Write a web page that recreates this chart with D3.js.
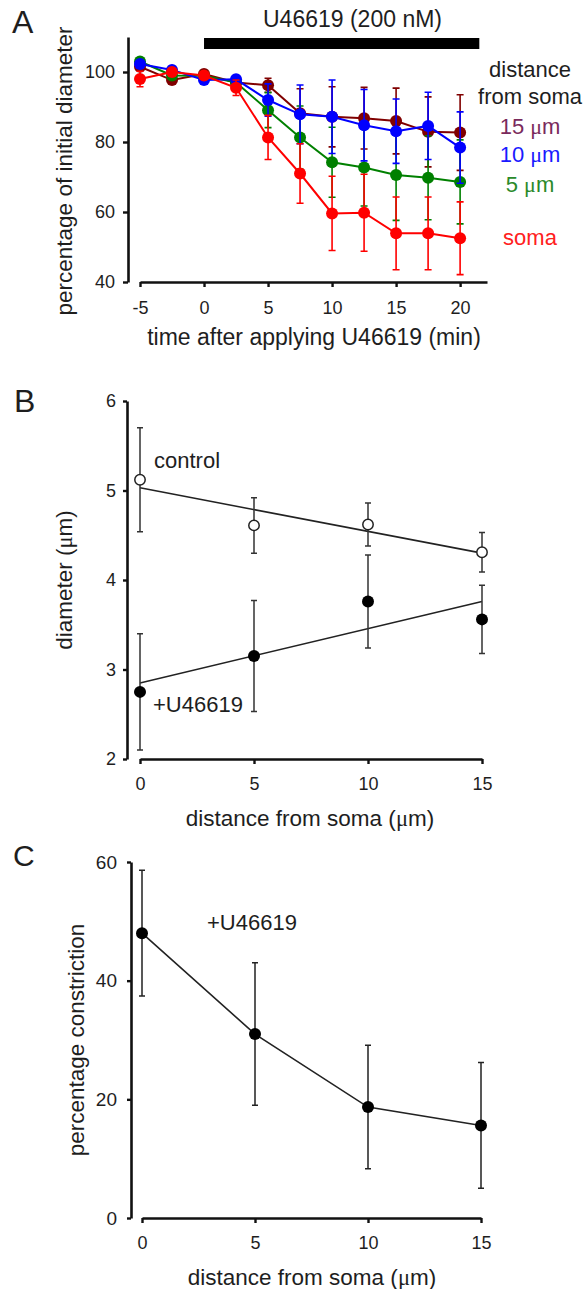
<!DOCTYPE html>
<html>
<head>
<meta charset="utf-8">
<script src="https://cdn.jsdelivr.net/npm/d3@7"></script>
<style>
  body { margin: 0; background: #fff; }
  text { font-family: "Liberation Sans", Arial, sans-serif; fill: #1e1e1e; }
</style>
</head>
<body>
<div id="figura"></div>
<script>
// panel A data (percentage of initial diameter)
const timeMin = [-5, -2.5, 0, 2.5, 5, 7.5, 10, 12.5, 15, 17.5, 20];
const soma    = [98, 100, 99, 95.5, 81.3, 71, 59.6, 59.8, 53.9, 53.9, 52.5];
const somaErr = [2.2, 1, 1, 2.2, 6.3, 8.5, 10.6, 11, 10.4, 10.4, 10.4];
const um5     = [103, 99, 98.9, 97, 89.1, 81.3, 74.2, 72.7, 70.6, 69.8, 68.6];
const um5Err  = [1, 1, 1, 1, 5, 9, 10, 11, 13, 12, 12];
const um10    = [102.3, 100.6, 97.7, 97.9, 92, 87.9, 87.2, 84.8, 83.1, 84.6, 78.4];
const um10Err = [1, 1, 1, 1, 4.6, 8.4, 10.5, 10.2, 9.2, 9.6, 10.2];
const um15    = [101.5, 97.7, 99.4, 97, 96.2, 88.2, 87.2, 86.8, 86, 82.9, 82.7];
const um15Err = [1, 1, 1, 1, 2, 7, 8.6, 8.8, 9.4, 10, 10.8];
const ticksA_x = [-5, 0, 5, 10, 15, 20];
const ticksA_y = [40, 60, 80, 100];

// panel B data (diameter, um)
const distB = [0, 5, 10, 15];
const control = [5.12, 4.61, 4.62, 4.31];
const controlErr = [0.58, 0.31, 0.24, 0.22];
const treated = [2.75, 3.15, 3.76, 3.56];
const treatedErr = [0.65, 0.62, 0.52, 0.38];
const fitDist = [0, 15];
const controlFit = [5.03, 4.30];
const treatedFit = [2.85, 3.76];
const ticksB_y = [2, 3, 4, 5, 6];

// panel C data (percentage constriction)
const distC = [0, 5, 10, 15];
const constriction = [48, 31, 18.7, 15.6];
const constrictionErr = [10.6, 12, 10.4, 10.6];
const ticksC_y = [0, 20, 40, 60];

const WIDTH = 586;
const HEIGHT = 1289;
const FONT = '"Liberation Sans", Arial, sans-serif';

const SVG = d3.select("#figura").append("svg").attr("width", WIDTH).attr("height", HEIGHT);

function estiloEje(g, size) {
    g.select(".domain").attr("stroke", "#111").attr("stroke-width", 2.6);
    g.selectAll(".tick line").attr("stroke", "#111").attr("stroke-width", 2.4);
    g.selectAll(".tick text").attr("fill", "#1e1e1e").style("font-size", size + "px").style("font-family", FONT);
}

function barrasError(g, xs, ys, es, x, y, color, cap, ancho) {
    var d = xs.map((v, i) => [v, ys[i], es[i]]);
    g.selectAll(null).data(d).enter().append("path")
        .attr("d", p => {
            var cx = x(p[0]), t = y(p[1] + p[2]), b = y(p[1] - p[2]);
            return "M" + cx + "," + t + "V" + b + "M" + (cx - cap) + "," + t + "H" + (cx + cap) + "M" + (cx - cap) + "," + b + "H" + (cx + cap);
        })
        .attr("fill", "none").attr("stroke", color).attr("stroke-width", ancho);
}

function etiqueta(txt, x, y, size, anchor, rot) {
    var t = SVG.append("text").attr("x", x).attr("y", y)
        .style("font-size", size + "px").attr("text-anchor", anchor || "start").text(txt);
    if (rot) t.attr("transform", "rotate(-90," + x + "," + y + ")");
    return t;
}

function etiquetaMu(pre, x, y, size, anchor, color, rot) {
    var t = SVG.append("text").attr("x", x).attr("y", y)
        .style("font-size", size + "px").attr("text-anchor", anchor || "start");
    if (color) t.style("fill", color);
    t.append("tspan").text(pre);
    t.append("tspan").style("font-family", '"Liberation Serif", serif').text("\u03bc");
    t.append("tspan").text("m" + (pre.indexOf("(") >= 0 ? ")" : ""));
    if (rot) t.attr("transform", "rotate(-90," + x + "," + y + ")");
    return t;
}

// ---------------- panel A ----------------
var xA = d3.scaleLinear().domain([-5, 22.1]).range([140, 487]);
var yA = d3.scaleLinear().domain([40, 110]).range([282, 37]);

SVG.append("g").attr("transform", "translate(128,0)")
    .call(d3.axisLeft(yA).tickValues(ticksA_y).tickSize(5).tickPadding(8).tickSizeOuter(0))
    .call(g => estiloEje(g, 18));
SVG.append("g").attr("transform", "translate(0,282)")
    .call(d3.axisBottom(xA).tickValues(ticksA_x).tickFormat(d => String(d)).tickSize(5).tickPadding(14).tickSizeOuter(0))
    .call(g => estiloEje(g, 18));

// barra de aplicacion del farmaco
SVG.append("rect").attr("x", xA(0)).attr("y", 38).attr("width", xA(21.5) - xA(0)).attr("height", 11).attr("fill", "#000");
etiqueta("U46619 (200 nM)", 263, 27, 23);

var seriesA = [
    { v: um15, e: um15Err, color: "#800000" },
    { v: um5, e: um5Err, color: "#008000" },
    { v: um10, e: um10Err, color: "#0000ff" },
    { v: soma, e: somaErr, color: "#ff0000" }
];
var lineaA = d3.line().x(d => xA(d[0])).y(d => yA(d[1]));
seriesA.forEach(function(s) {
    var g = SVG.append("g");
    barrasError(g, timeMin, s.v, s.e, xA, yA, s.color, 3.5, 1.6);
    var pts = timeMin.map((t, i) => [t, s.v[i]]);
    g.append("path").attr("d", lineaA(pts)).attr("fill", "none").attr("stroke", s.color).attr("stroke-width", 2);
    g.selectAll("circle").data(pts).enter().append("circle")
        .attr("cx", d => xA(d[0])).attr("cy", d => yA(d[1])).attr("r", 6).attr("fill", s.color);
});

etiqueta("distance", 530, 77, 22, "middle");
etiqueta("from soma", 530, 104, 22, "middle");
etiquetaMu("15 ", 530, 134, 22, "middle", "#7a2a5c");
etiquetaMu("10 ", 530, 162, 22, "middle", "#1a1aff");
etiquetaMu("5 ", 530, 192, 22, "middle", "#2a8a2a");
etiqueta("soma", 530, 245, 22, "middle").style("fill", "#ff2020");

etiqueta("time after applying U46619 (min)", 314, 345, 23, "middle");
etiqueta("percentage of initial diameter", 72, 171, 22.5, "middle", true);
etiqueta("A", 12, 33, 32);

// ---------------- panel B ----------------
var xB = d3.scaleLinear().domain([0, 15]).range([140, 482]);
var yB = d3.scaleLinear().domain([2, 6]).range([759, 401]);

SVG.append("g").attr("transform", "translate(127,0)")
    .call(d3.axisLeft(yB).tickValues(ticksB_y).tickFormat(d => String(d)).tickSize(4).tickPadding(7).tickSizeOuter(0))
    .call(g => estiloEje(g, 18));
SVG.append("g").attr("transform", "translate(0,759)")
    .call(d3.axisBottom(xB).tickValues(distB).tickFormat(d => String(d)).tickSize(5).tickPadding(13).tickSizeOuter(0))
    .call(g => estiloEje(g, 18));

var grafB = SVG.append("g");
var lineaB = d3.line().x(d => xB(d[0])).y(d => yB(d[1]));
grafB.append("path").attr("d", lineaB(fitDist.map((d, i) => [d, controlFit[i]])))
    .attr("fill", "none").attr("stroke", "#222").attr("stroke-width", 1.6);
grafB.append("path").attr("d", lineaB(fitDist.map((d, i) => [d, treatedFit[i]])))
    .attr("fill", "none").attr("stroke", "#222").attr("stroke-width", 1.6);
barrasError(grafB, distB, control, controlErr, xB, yB, "#333", 3, 1.5);
barrasError(grafB, distB, treated, treatedErr, xB, yB, "#333", 3, 1.5);
grafB.selectAll(".abierto").data(distB.map((d, i) => [d, control[i]])).enter().append("circle")
    .attr("cx", d => xB(d[0])).attr("cy", d => yB(d[1])).attr("r", 5.2)
    .attr("fill", "#fff").attr("stroke", "#222").attr("stroke-width", 1.5);
grafB.selectAll(".lleno").data(distB.map((d, i) => [d, treated[i]])).enter().append("circle")
    .attr("cx", d => xB(d[0])).attr("cy", d => yB(d[1])).attr("r", 6).attr("fill", "#000");

etiqueta("control", 154, 468, 22);
etiqueta("+U46619", 153, 712, 22);
etiquetaMu("distance from soma (", 310, 826, 22.5, "middle");
etiquetaMu("diameter (", 72, 580, 22.5, "middle", null, true);
etiqueta("B", 14, 412, 32);

// ---------------- panel C ----------------
var xC = d3.scaleLinear().domain([0, 15]).range([142, 481]);
var yC = d3.scaleLinear().domain([0, 60]).range([1218, 862]);

SVG.append("g").attr("transform", "translate(131,0)")
    .call(d3.axisLeft(yC).tickValues(ticksC_y).tickFormat(d => String(d)).tickSize(4).tickPadding(10).tickSizeOuter(0))
    .call(g => estiloEje(g, 19));
SVG.append("g").attr("transform", "translate(0,1218)")
    .call(d3.axisBottom(xC).tickValues(distC).tickFormat(d => String(d)).tickSize(5).tickPadding(13).tickSizeOuter(0))
    .call(g => estiloEje(g, 18));

var grafC = SVG.append("g");
var ptsC = distC.map((d, i) => [d, constriction[i]]);
grafC.append("path").attr("d", d3.line().x(d => xC(d[0])).y(d => yC(d[1]))(ptsC))
    .attr("fill", "none").attr("stroke", "#222").attr("stroke-width", 1.6);
barrasError(grafC, distC, constriction, constrictionErr, xC, yC, "#222", 3, 1.5);
grafC.selectAll("circle").data(ptsC).enter().append("circle")
    .attr("cx", d => xC(d[0])).attr("cy", d => yC(d[1])).attr("r", 6).attr("fill", "#000");

etiqueta("+U46619", 207, 930, 22);
etiquetaMu("distance from soma (", 312, 1285, 22.5, "middle");
etiqueta("percentage constriction", 84, 1040, 22.5, "middle", true);
etiqueta("C", 13, 866, 30);
</script>
</body>
</html>
